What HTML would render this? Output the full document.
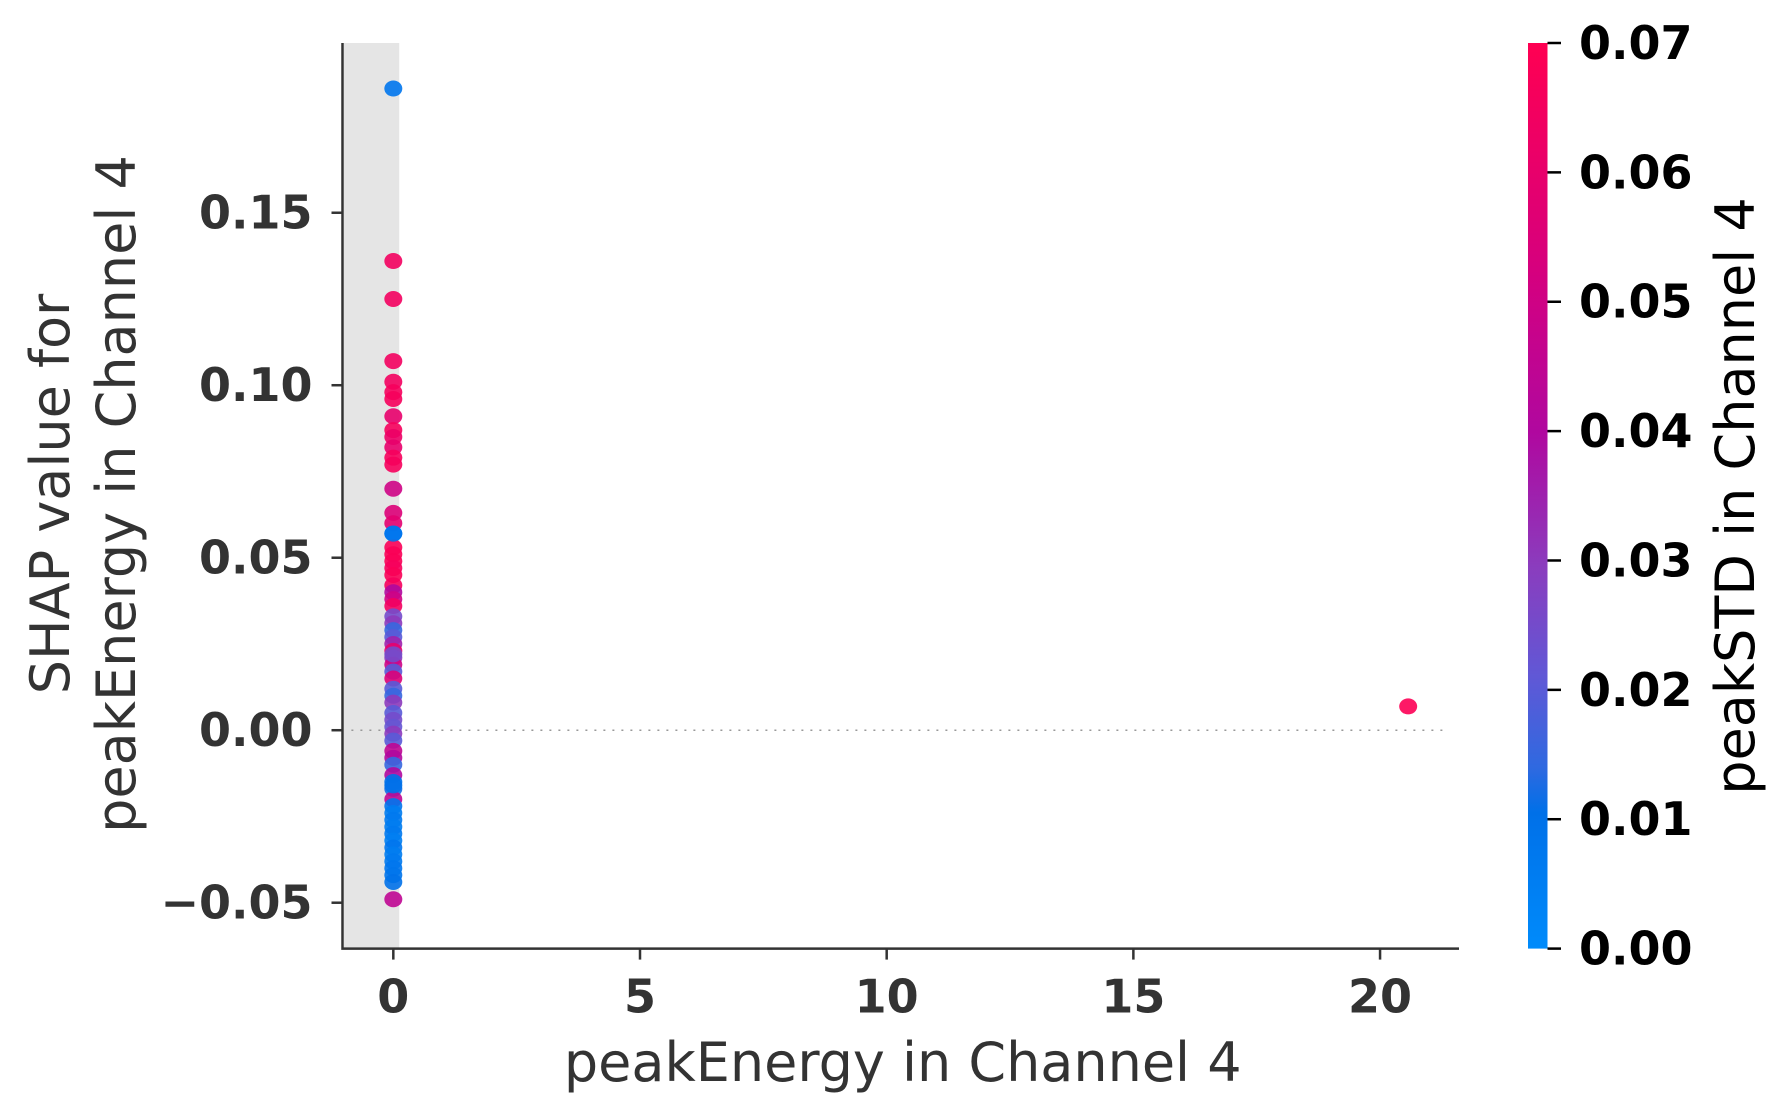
<!DOCTYPE html>
<html><head><meta charset="utf-8"><style>
html,body{margin:0;padding:0;background:#fff;}
svg{display:block;font-family:"DejaVu Sans","Liberation Sans",sans-serif;}
</style></head><body>
<svg id="chart" width="1789" height="1120" viewBox="0 0 1789 1120">
<defs>
<linearGradient id="cmap" x1="0" y1="1" x2="0" y2="0">
<stop offset="0" stop-color="#008bfb"/>
<stop offset="0.15" stop-color="#0070e8"/>
<stop offset="0.2" stop-color="#2f69e0"/>
<stop offset="0.3" stop-color="#6058d6"/>
<stop offset="0.42" stop-color="#8a3dbe"/>
<stop offset="0.57" stop-color="#b0089f"/>
<stop offset="0.75" stop-color="#d6007e"/>
<stop offset="1" stop-color="#ff0052"/>
</linearGradient>
</defs>
<g id="plot"></g>
</svg>
<script>
const xVals=[0,0,0,0,0,0,0,0,0,0,0,0,0,0,0,0,0,0,0,0,0,0,0,0,0,0,0,0,0,0,0,0,0,0,0,0,0,0,0,0,0,0,0,0,0,0,0,0,0,0,0,0,0,0,0,0,0,0,0,0,0,0,0,0,0,0,0,20.57];
const yVals=[0.186,0.136,0.125,0.107,0.101,0.098,0.096,0.091,0.087,0.085,0.082,0.079,0.077,0.070,0.063,0.060,0.057,0.053,0.051,0.049,0.047,0.045,0.042,0.040,0.038,0.036,0.033,0.031,0.029,0.027,0.025,0.023,0.021,0.019,0.017,0.015,0.012,0.010,0.008,0.005,0.003,0.001,-0.001,-0.003,-0.006,-0.008,-0.010,-0.013,-0.015,-0.017,-0.020,-0.022,-0.024,-0.026,-0.028,-0.030,-0.032,-0.034,-0.036,-0.038,-0.040,-0.042,-0.044,-0.049,-0.016,0.057,0.022,0.0069];
const cVals=[0.008,0.065,0.065,0.065,0.065,0.066,0.066,0.06,0.066,0.062,0.06,0.066,0.066,0.05,0.055,0.058,0.008,0.068,0.068,0.068,0.066,0.068,0.066,0.04,0.05,0.065,0.025,0.03,0.015,0.02,0.035,0.06,0.03,0.05,0.02,0.055,0.02,0.015,0.03,0.02,0.025,0.022,0.03,0.02,0.045,0.04,0.015,0.04,0.01,0.012,0.045,0.008,0.006,0.007,0.006,0.007,0.005,0.008,0.006,0.007,0.008,0.009,0.01,0.045,0.01,0.008,0.025,0.069];
const yTicks=[-0.05,0,0.05,0.10,0.15];
const yTickLabels=["\u22120.05","0.00","0.05","0.10","0.15"];
const xTicks=[0,5,10,15,20];
const xTickLabels=["0","5","10","15","20"];
const cTicks=[0,0.01,0.02,0.03,0.04,0.05,0.06,0.07];
const cTickLabels=["0.00","0.01","0.02","0.03","0.04","0.05","0.06","0.07"];

const NS="http://www.w3.org/2000/svg";
const g=document.getElementById('plot');
const X0=342.5,X1=1459,Y0=948.6,Y1=43;
const xMin=-1.03,xMax=21.6,yMin=-0.0633,yMax=0.1992;
const sx=v=>X0+(v-xMin)/(xMax-xMin)*(X1-X0);
const sy=v=>Y0-(v-yMin)/(yMax-yMin)*(Y0-Y1);
const cMax=0.07,CB0=948.6,CB1=43;
const sc=v=>CB0-v/cMax*(CB0-CB1);
const stops=[[0,[0,139,251]],[0.15,[0,112,232]],[0.2,[47,105,224]],[0.3,[96,88,214]],[0.42,[138,61,190]],[0.57,[176,8,159]],[0.75,[214,0,126]],[1,[255,0,82]]];
function cmap(v){let t=Math.max(0,Math.min(1,v/cMax));for(let i=1;i<stops.length;i++){if(t<=stops[i][0]){const a=stops[i-1],b=stops[i];const f=(t-a[0])/(b[0]-a[0]);return 'rgb('+a[1].map((c,k)=>Math.round(c+(b[1][k]-c)*f)).join(',')+')';}}return 'rgb(255,0,82)';}
function mk(tag,attrs,parent){const e=document.createElementNS(NS,tag);for(const k in attrs)e.setAttribute(k,attrs[k]);(parent||g).appendChild(e);return e;}

let band=mk('rect',{x:sx(-1.0),y:Y1,width:sx(0.12)-sx(-1.0),height:Y0-Y1,fill:'#e5e5e5'});


let zl=mk('line',{x1:sx(-0.85),x2:sx(21.4),y1:sy(0),y2:sy(0),stroke:'#999','stroke-width':1.5,'stroke-dasharray':'2,7'});



const pts=mk('g',{});


for(let i=0;i<yVals.length;i++){
  const c=mk('ellipse',{cx:sx(xVals[i]),cy:sy(yVals[i]),rx:9,ry:8,fill:cmap(cVals[i]),'fill-opacity':0.9},pts);
  
  
}

let ax=mk('path',{d:`M${X0},${Y1} L${X0},${Y0} L${X1},${Y0}`,fill:'none',stroke:'#333','stroke-width':2.5});



yTicks.forEach((v,i)=>{
  const y=sy(v);
  const t=mk('line',{x1:X0-11,x2:X0,y1:y,y2:y,stroke:'#333','stroke-width':2.5});
  
  
  const l=mk('text',{x:X0-30,y:y+16,'text-anchor':'end','font-size':46,'font-weight':'bold',fill:'#333'});
  l.textContent=yTickLabels[i];
  
  
});
xTicks.forEach((v,i)=>{
  const x=sx(v);
  const t=mk('line',{x1:x,x2:x,y1:Y0,y2:Y0+11,stroke:'#333','stroke-width':2.5});
  
  
  const l=mk('text',{x:x,y:Y0+64,'text-anchor':'middle','font-size':46,'font-weight':'bold',fill:'#333'});
  l.textContent=xTickLabels[i];
  
  
});

let xt=mk('text',{x:(X0+X1)/2+2,y:1081,'text-anchor':'middle','font-size':54,fill:'#333'});
xt.textContent='peakEnergy in Channel 4';


let yt=mk('text',{transform:'translate(0,494) rotate(-90)','text-anchor':'middle','font-size':54,fill:'#333'});


let ts1=mk('tspan',{x:0,y:69},yt);ts1.textContent='SHAP value for';
let ts2=mk('tspan',{x:0,y:135},yt);ts2.textContent='peakEnergy in Channel 4';

let cb=mk('rect',{x:1528,y:CB1,width:19.5,height:CB0-CB1,fill:'url(#cmap)'});


cTicks.forEach((v,i)=>{
  const y=sc(v);
  const t=mk('line',{x1:1547.5,x2:1561,y1:y,y2:y,stroke:'#000','stroke-width':2.5});
  
  
  const l=mk('text',{x:1579,y:y+16,'font-size':46,'font-weight':'bold',fill:'#000'});
  l.textContent=cTickLabels[i];
  
  
});
let ct=mk('text',{transform:'translate(1754,496) rotate(-90)','text-anchor':'middle','font-size':54,fill:'#000'});
ct.textContent='peakSTD in Channel 4';


</script>
</body></html>
